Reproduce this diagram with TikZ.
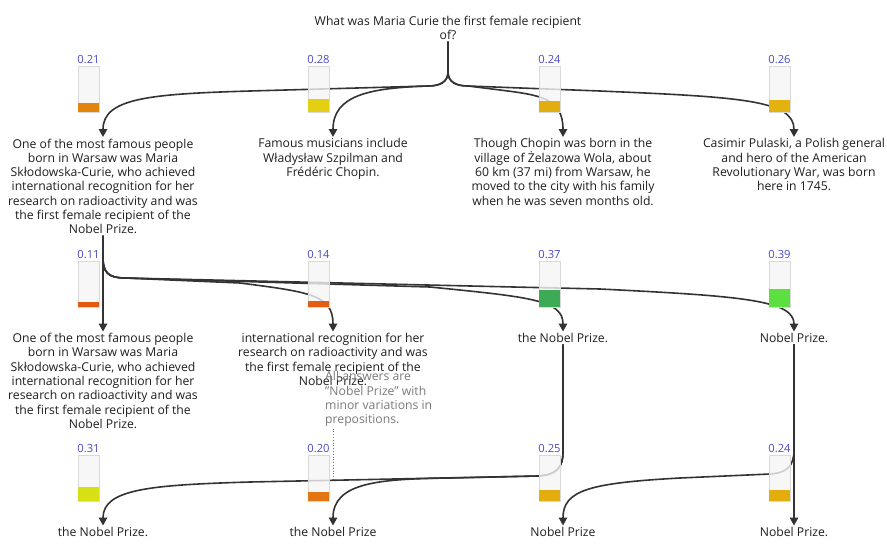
\documentclass[tikz,border=0pt]{standalone}
\usepackage{fontspec}
\setmainfont{Open Sans}
\usetikzlibrary{arrows.meta,calc}
\definecolor{edgec}{HTML}{333333}
\definecolor{txtc}{HTML}{1E1E1E}
\definecolor{labc}{HTML}{4A4AC8}
\definecolor{annc}{HTML}{7A7A7A}
\definecolor{cA}{HTML}{E2850C}
\definecolor{cB}{HTML}{E3D013}
\definecolor{cC}{HTML}{E3AC0F}
\definecolor{cD}{HTML}{E3B20F}
\definecolor{cE}{HTML}{E05A12}
\definecolor{cF}{HTML}{E35E12}
\definecolor{cG}{HTML}{3DAA55}
\definecolor{cH}{HTML}{5DE03F}
\definecolor{cI}{HTML}{D6E015}
\definecolor{cJ}{HTML}{E37612}
\newcommand{\probbar}[5]{%
  \node[barframe] (#1) at (#2,#3+23) {};
  \fill[#5] (#1.south west) rectangle ($(#1.south east)+(0,-46*#4)$);
  \node[problabel] (#1l) at ($(#1.north)+(0,-1)$) {#4};
}
\begin{document}
\begin{tikzpicture}[x=1pt,y=-1pt,
  txt/.style={font=\fontsize{12.2}{14.3}\selectfont, align=center, inner sep=1.5pt, anchor=north, text=txtc},
  edge/.style={draw=edgec, line width=1.6pt, -{Triangle[width=8.5pt,length=8pt]}},
  barframe/.style={draw=black!15, fill=black!4, fill opacity=0.8, minimum width=21pt, minimum height=46pt, inner sep=0pt, line width=0.6pt},
  problabel/.style={font=\fontsize{11.2}{12}\selectfont, text=labc, anchor=south, inner sep=1pt},
  ann/.style={font=\fontsize{12.2}{14.3}\selectfont, align=left, inner sep=1.5pt, anchor=north west, text=annc}]
\useasboundingbox (0,0) rectangle (887,557);

% text nodes
\node[txt] (q) at (448,14.5) {What was Maria Curie the first female recipient\\of?};

\node[txt] (r1c1) at (103,137) {One of the most famous people\\born in Warsaw was Maria\\Skłodowska-Curie, who achieved\\international recognition for her\\research on radioactivity and was\\the first female recipient of the\\Nobel Prize.};
\node[txt] (r1c2) at (333,137) {Famous musicians include\\Władysław Szpilman and\\Frédéric Chopin.};
\node[txt] (r1c3) at (563,137) {Though Chopin was born in the\\village of Żelazowa Wola, about\\60 km (37 mi) from Warsaw, he\\moved to the city with his family\\when he was seven months old.};
\node[txt] (r1c4) at (794,137) {Casimir Pulaski, a Polish general\\and hero of the American\\Revolutionary War, was born\\here in 1745.};

\node[txt] (r2c1) at (103,331.5) {One of the most famous people\\born in Warsaw was Maria\\Skłodowska-Curie, who achieved\\international recognition for her\\research on radioactivity and was\\the first female recipient of the\\Nobel Prize.};
\node[txt] (r2c2) at (333,331.5) {international recognition for her\\research on radioactivity and was\\the first female recipient of the\\Nobel Prize.};
\node[txt] (r2c3) at (563,331.5) {the Nobel Prize.};
\node[txt] (r2c4) at (794,331.5) {Nobel Prize.};

\node[txt] (r3c1) at (103,525.5) {the Nobel Prize.};
\node[txt] (r3c2) at (333,525.5) {the Nobel Prize};
\node[txt] (r3c3) at (563,525.5) {Nobel Prize};
\node[txt] (r3c4) at (794,525.5) {Nobel Prize.};

\node[ann] (ann) at (323.5,370) {All answers are\\"Nobel Prize" with\\minor variations in\\prepositions.};
\coordinate (annpt) at (333,479);
\draw[annc, dotted, line width=0.8pt] ($(ann.south west)+(9.5,0)$) -- (annpt);

% row 1 edges
\draw[edge] (q.south) -- (448,72) .. controls (448,82) and (440,86) .. (428,86) -- (250,91) .. controls (150,94) and (103,98) .. (r1c1.north);
\draw[edge] (q.south) -- (448,72) .. controls (448,82) and (440,86) .. (428,86) .. controls (370,88) and (333,95) .. (r1c2.north);
\draw[edge] (q.south) -- (448,72) .. controls (448,82) and (456,86) .. (468,86) -- (500,90) .. controls (540,95) and (563,98) .. (r1c3.north);
\draw[edge] (q.south) -- (448,72) .. controls (448,82) and (456,86) .. (468,86) -- (600,91) .. controls (740,97) and (794,100) .. (r1c4.north);

% row 2 edges
\draw[edge] (r1c1.south) -- (r2c1.north);
\draw[edge] (r1c1.south) -- (103,258) .. controls (103,272) and (108,278) .. (125,278) -- (240,283) .. controls (310,292) and (333,295) .. (r2c2.north);
\draw[edge] (r1c1.south) -- (103,258) .. controls (103,272) and (108,278) .. (125,278) -- (430,287) .. controls (530,297) and (563,300) .. (r2c3.north);
\draw[edge] (r1c1.south) -- (103,258) .. controls (103,272) and (108,278) .. (125,278) -- (600,289) .. controls (740,296) and (794,300) .. (r2c4.north);

% row 3 edges
\draw[edge] (r2c3.south) -- (563,452) .. controls (563,468) and (556,475) .. (538,476) -- (250,482) .. controls (150,485) and (103,489) .. (r3c1.north);
\draw[edge] (r2c3.south) -- (563,452) .. controls (563,468) and (556,475) .. (538,476) -- (450,478) .. controls (380,479) and (333,482) .. (r3c2.north);
\draw[edge] (r2c4.south) -- (r3c4.north);
\draw[edge] (r2c4.south) -- (794,450) .. controls (794,466) and (787,473) .. (770,474) -- (680,478) .. controls (590,483) and (563,490) .. (r3c3.north);

% bars
\probbar{b11}{88.5}{66}{0.21}{cA}
\probbar{b12}{318.5}{66}{0.28}{cB}
\probbar{b13}{549.5}{66}{0.24}{cC}
\probbar{b14}{779.5}{66}{0.26}{cD}
\probbar{b21}{88.5}{261}{0.11}{cE}
\probbar{b22}{318.5}{261}{0.14}{cF}
\probbar{b23}{549.5}{261}{0.37}{cG}
\probbar{b24}{779.5}{261}{0.39}{cH}
\probbar{b31}{88.5}{455}{0.31}{cI}
\probbar{b32}{318.5}{455}{0.20}{cJ}
\probbar{b33}{549.5}{455}{0.25}{cC}
\probbar{b34}{779.5}{455}{0.24}{cC}
\end{tikzpicture}
\end{document}
